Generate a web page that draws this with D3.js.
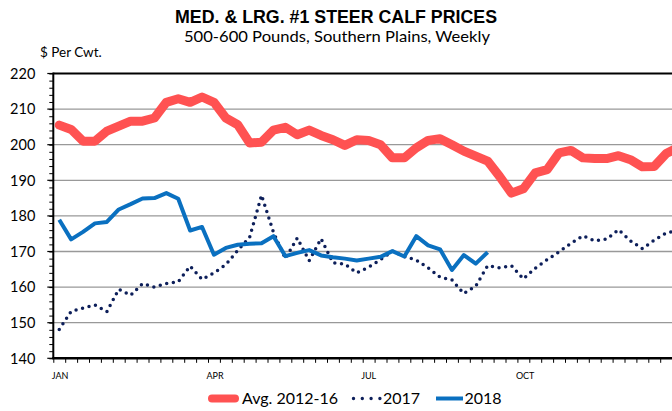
<!DOCTYPE html>
<html>
<head>
<meta charset="utf-8">
<script src="https://cdn.jsdelivr.net/npm/d3@7"></script>
<style>
  html, body { margin: 0; padding: 0; background: #fff; }
  svg { display: block; }
</style>
</head>
<body>
<div id="chart"></div>
<script>
// weekly categories (Excel style: ticks between weeks)
const weekCount = 53;
const monthLabels = ["JAN", "APR", "JUL", "OCT"];
const monthWeeks = [0, 13, 26, 39];
const yTicks = [140, 150, 160, 170, 180, 190, 200, 210, 220];

// $ per cwt
const avg1216 = [
  205.5, 204.3, 201.0, 201.0, 203.8, 205.2, 206.6, 206.6, 207.5, 211.9,
  212.9, 211.9, 213.4, 211.9, 207.5, 205.6, 200.5, 200.7, 204.1, 204.9,
  202.8, 204.1, 202.6, 201.4, 199.8, 201.4, 201.2, 200.0, 196.3, 196.3,
  199.1, 201.2, 201.7, 200.0, 198.2, 196.8, 195.4, 191.1, 186.4, 187.6,
  192.1, 193.0, 197.7, 198.4, 196.3, 196.1, 196.1, 196.9, 195.8, 193.8,
  193.9, 197.5, 199.2
];
const y2017 = [
  148.1, 153.2, 154.1, 155.0, 153.1, 159.4, 157.7, 161.0, 160.0, 161.0,
  161.5, 165.9, 162.2, 164.0, 166.3, 170.3, 174.0, 185.8, 175.4, 168.0,
  173.8, 167.4, 173.6, 166.8, 166.5, 164.0, 165.6, 167.7, 170.1, 168.6,
  167.6, 165.4, 162.8, 162.0, 158.2, 160.3, 166.0, 165.4, 166.0, 162.3,
  165.3, 167.7, 169.9, 172.3, 174.4, 173.0, 173.5, 176.1, 173.0, 170.8,
  173.2, 175.2, 176.0
];
const y2018 = [
  178.9, 173.4, 175.5, 177.9, 178.3, 181.8, 183.3, 184.9, 185.0, 186.4,
  184.8, 175.9, 176.9, 169.1, 171.0, 171.9, 172.2, 172.3, 174.3, 168.7,
  169.6, 170.4, 168.9, 168.4, 168.0, 167.5, 168.0, 168.5, 170.1, 168.6,
  174.3, 171.7, 170.6, 164.8, 169.0, 166.6, 169.8
];

const W = 672, H = 411;
const plotLeft = 53.3, plotTop = 73.5, plotBottom = 358.3, step = 11.9;

const svg = d3.select("#chart").append("svg")
  .attr("width", W).attr("height", H)
  .attr("viewBox", `0 0 ${W} ${H}`);

const x = d3.scaleLinear().domain([0, weekCount]).range([plotLeft, plotLeft + weekCount * step]);
const y = d3.scaleLinear().domain([140, 220]).range([plotBottom, plotTop]);

// titles
svg.append("text")
  .attr("x", 336).attr("y", 23)
  .attr("text-anchor", "middle")
  .attr("textLength", 322).attr("lengthAdjust", "spacingAndGlyphs")
  .style("font-family", "'Liberation Sans', Arial, sans-serif")
  .style("font-weight", "bold").style("font-size", "18px")
  .style("fill", "#000")
  .text("MED. & LRG. #1 STEER CALF PRICES");

svg.append("text")
  .attr("x", 337).attr("y", 42)
  .attr("text-anchor", "middle")
  .attr("textLength", 306).attr("lengthAdjust", "spacingAndGlyphs")
  .style("font-family", "Lato, sans-serif")
  .style("font-size", "16px").style("fill", "#000")
  .text("500-600 Pounds, Southern Plains, Weekly");

svg.append("text")
  .attr("x", 40).attr("y", 57)
  .style("font-family", "Lato, sans-serif")
  .style("font-size", "13.5px").style("fill", "#000")
  .text("$ Per Cwt.");

// gridlines
svg.append("g")
  .selectAll("line")
  .data(yTicks.filter(d => d > 140 && d < 220))
  .join("line")
  .attr("x1", plotLeft).attr("x2", W)
  .attr("y1", d => y(d)).attr("y2", d => y(d))
  .style("stroke", "#999").style("stroke-width", 1.3);

// top frame line
svg.append("line")
  .attr("x1", plotLeft).attr("x2", W)
  .attr("y1", y(220)).attr("y2", y(220))
  .style("stroke", "#000").style("stroke-width", 2.2);

// y axis with minor ticks every 2
const yAxis = svg.append("g").attr("transform", `translate(${plotLeft},0)`);
yAxis.call(d3.axisLeft(y).tickValues(d3.range(140, 221, 2)).tickSize(4).tickFormat(""));
yAxis.selectAll(".tick line").style("stroke", "#000").style("stroke-width", 1);
yAxis.select(".domain").remove();
yAxis.append("g").selectAll("line")
  .data(yTicks).join("line")
  .attr("x1", -6).attr("x2", 0)
  .attr("y1", d => y(d)).attr("y2", d => y(d))
  .style("stroke", "#000").style("stroke-width", 1.2);
yAxis.append("g").selectAll("text")
  .data(yTicks).join("text")
  .attr("x", -18).attr("y", d => y(d))
  .attr("dy", "0.36em")
  .attr("text-anchor", "end")
  .style("font-family", "Lato, sans-serif")
  .style("font-size", "14.5px").style("fill", "#000")
  .text(d => d);
svg.append("line")
  .attr("x1", plotLeft).attr("x2", plotLeft)
  .attr("y1", plotTop - 1).attr("y2", plotBottom)
  .style("stroke", "#000").style("stroke-width", 2);

// x axis
const xAxis = svg.append("g").attr("transform", `translate(0,${plotBottom})`);
xAxis.call(d3.axisBottom(x).tickValues(d3.range(0, weekCount + 1)).tickSize(4.5).tickFormat(""));
xAxis.selectAll(".tick line").style("stroke", "#000").style("stroke-width", 1);
xAxis.select(".domain").remove();
svg.append("line")
  .attr("x1", plotLeft - 1).attr("x2", W)
  .attr("y1", plotBottom).attr("y2", plotBottom)
  .style("stroke", "#000").style("stroke-width", 2.4);

svg.append("g").selectAll("text")
  .data(monthLabels).join("text")
  .attr("x", (d, i) => x(monthWeeks[i]) - 1.5)
  .attr("y", 378.5)
  .style("font-family", "Lato, sans-serif")
  .style("font-size", "9px").style("fill", "#000")
  .text(d => d);

// series
const line = d3.line()
  .x((d, i) => x(i + 0.5))
  .y(d => y(d));

const plot = svg.append("g");

plot.append("path")
  .datum(avg1216)
  .attr("d", line)
  .style("fill", "none").style("stroke", "#ff5252")
  .style("stroke-width", 9)
  .style("stroke-linejoin", "round").style("stroke-linecap", "round");

plot.append("path")
  .datum(y2017)
  .attr("d", line)
  .style("fill", "none").style("stroke", "#0d1f5a")
  .style("stroke-width", 3.5)
  .style("stroke-dasharray", "0 6.7")
  .style("stroke-linecap", "round");

plot.append("path")
  .datum(y2018)
  .attr("d", line)
  .style("fill", "none").style("stroke", "#0a70c0")
  .style("stroke-width", 4)
  .style("stroke-linejoin", "round");

// legend
const legendY = 398.5;
const legend = svg.append("g");
legend.append("line")
  .attr("x1", 212).attr("x2", 235).attr("y1", legendY).attr("y2", legendY)
  .style("stroke", "#ff5252").style("stroke-width", 8).style("stroke-linecap", "round");
legend.append("line")
  .attr("x1", 353.5).attr("x2", 382).attr("y1", legendY).attr("y2", legendY)
  .style("stroke", "#0d1f5a").style("stroke-width", 3.4)
  .style("stroke-dasharray", "0 8.8").style("stroke-linecap", "round");
legend.append("line")
  .attr("x1", 436).attr("x2", 463).attr("y1", legendY).attr("y2", legendY)
  .style("stroke", "#0a70c0").style("stroke-width", 4);

const legendText = [["Avg. 2012-16", 242], ["2017", 383], ["2018", 464.5]];
legend.selectAll("text")
  .data(legendText).join("text")
  .attr("x", d => d[1]).attr("y", 404)
  .style("font-family", "Lato, sans-serif")
  .style("font-size", "16px").style("fill", "#000")
  .text(d => d[0]);
</script>
</body>
</html>
